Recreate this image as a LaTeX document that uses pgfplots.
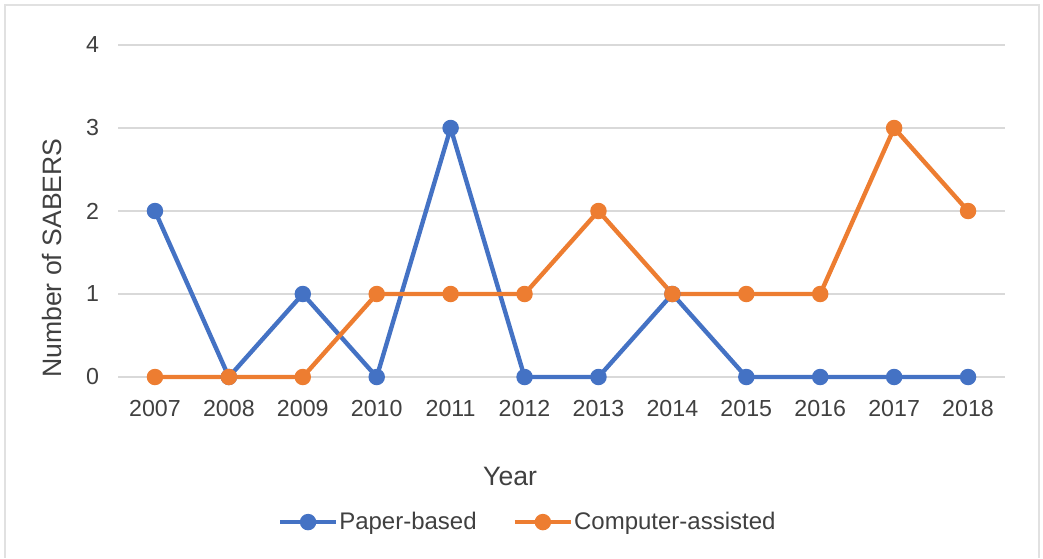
\documentclass[border=0pt]{standalone}
\usepackage{pgfplots}
\pgfplotsset{compat=1.18}
\usepackage{fontspec}
\setmainfont{Liberation Sans}
\definecolor{cblue}{HTML}{4472C4}
\definecolor{corange}{HTML}{ED7D31}
\definecolor{txt}{HTML}{404040}
\definecolor{gridc}{HTML}{D9D9D9}
\begin{document}
\begin{tikzpicture}
\useasboundingbox (0pt,0pt) rectangle (521.5pt,279pt);
\draw[gridc!80!white, line width=0.8pt] (2.5pt,0pt) -- (2.5pt,276.5pt) -- (519.5pt,276.5pt) -- (519.5pt,0pt);
\begin{axis}[
  at={(59pt,90.5pt)}, anchor=south west,
  scale only axis, width=443.5pt, height=166pt,
  xmin=-0.5, xmax=11.5, ymin=0, ymax=4,
  xtick={0,...,11},
  xticklabels={2007,2008,2009,2010,2011,2012,2013,2014,2015,2016,2017,2018},
  ytick={0,1,2,3,4},
  axis line style={draw=none},
  major tick length=0pt,
  xmajorgrids=false, ymajorgrids=true, grid style={color=gridc, line width=0.8pt},
  tick label style={font=\fontsize{11.6}{13}\selectfont, text=txt},
  xticklabel style={anchor=center, yshift=-16pt},
  yticklabel style={anchor=east, xshift=-6pt},
  /pgf/number format/assume math mode=true,
  xlabel={Year}, ylabel={Number of SABERS},
  label style={font=\fontsize{13.3}{15}\selectfont, text=txt},
  xlabel style={at={(axis description cs:0.442,-0.301)}, anchor=center},
  ylabel style={at={(axis description cs:-0.0744,0.358)}, anchor=center, rotate=0},
  legend style={at={(0.463,-0.437)}, anchor=center, draw=none, legend columns=2,
    font=\fontsize{12}{14}\selectfont, text=txt,
    /tikz/every odd column/.append style={column sep=-1.5pt},
    /tikz/every even column/.append style={column sep=16pt}},
  legend image code/.code={
    \draw[#1, mark=none] (0pt,0pt) -- (28pt,0pt);
    \fill[#1] (14pt,0pt) circle (3pt);},
  clip=false,
]
\addplot[cblue, line width=2.2pt, mark=*, mark size=3pt, mark options={solid}] coordinates {
(0,2) (1,0) (2,1) (3,0) (4,3) (5,0) (6,0) (7,1) (8,0) (9,0) (10,0) (11,0)};
\addlegendentry{Paper-based}
\addplot[corange, line width=2.2pt, mark=*, mark size=3pt, mark options={solid}] coordinates {
(0,0) (1,0) (2,0) (3,1) (4,1) (5,1) (6,2) (7,1) (8,1) (9,1) (10,3) (11,2)};
\addlegendentry{Computer-assisted}
\end{axis}
\end{tikzpicture}
\end{document}
